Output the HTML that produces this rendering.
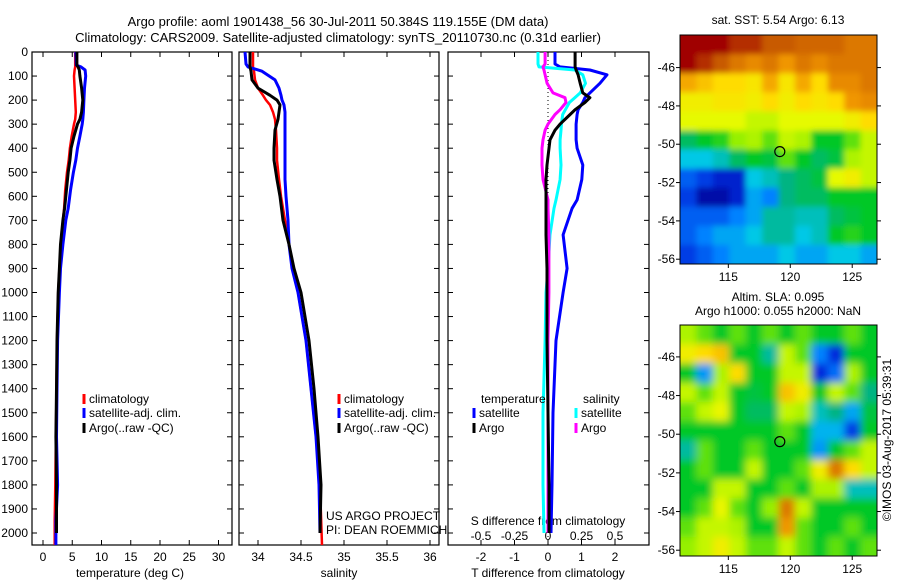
<!DOCTYPE html>
<html><head><meta charset="utf-8"><style>
body{margin:0;background:#fff}
svg{display:block;font-family:"Liberation Sans",sans-serif;font-size:12px}
</style></head><body>
<svg id="fig" width="900" height="580" viewBox="0 0 900 580" xmlns="http://www.w3.org/2000/svg">
<defs>
<clipPath id="clipSst"><rect x="680" y="35" width="197" height="229"/></clipPath>
<clipPath id="clipSla"><rect x="680" y="325" width="197" height="231"/></clipPath>
<filter id="blurS" x="-5%" y="-5%" width="110%" height="110%"><feGaussianBlur stdDeviation="3"/></filter>
<filter id="blurL" x="-5%" y="-5%" width="110%" height="110%"><feGaussianBlur stdDeviation="4"/></filter>
</defs>
<rect width="900" height="580" fill="#fff"/>
<text x="338" y="26" text-anchor="middle" font-size="13">Argo profile: aoml 1901438_56 30-Jul-2011 50.384S 119.155E (DM data)</text>
<text x="338" y="42" text-anchor="middle" font-size="13">Climatology: CARS2009. Satellite-adjusted climatology: synTS_20110730.nc (0.31d earlier)</text>
<text x="778" y="24" text-anchor="middle">sat. SST: 5.54 Argo: 6.13</text>
<text x="778" y="301" text-anchor="middle">Altim. SLA: 0.095</text>
<text x="778" y="315" text-anchor="middle">Argo h1000: 0.055 h2000: NaN</text>
<text transform="translate(891,440) rotate(-90)" text-anchor="middle">©IMOS 03-Aug-2017 05:39:31</text>
<g id="g"></g>
</svg>
<script>
// ---- data ----
const tDepth=[0,55,62,75,100,150,200,250,280,300,350,400,450,500,575,650,700,800,900,1000,1200,1400,1600,1800,1950,2050];
const tClim=[5.5,5.5,5.5,5.4,5.3,5.4,5.5,5.6,5.5,5.3,4.9,4.6,4.4,4.1,3.8,3.6,3.4,3.1,2.8,2.6,2.4,2.3,2.2,2.1,2.0,2.0];
const tArgo=[5.8,5.8,6.0,6.2,6.3,6.6,6.8,6.6,6.3,5.9,5.3,4.8,4.6,4.3,4.0,3.7,3.4,3.0,2.8,2.6,2.4,2.3,2.2,2.3,2.3,2.3];
const tSat=[5.6,5.7,6.5,7.2,7.3,7.1,7.0,6.9,6.8,6.7,6.3,5.9,5.6,5.2,4.7,4.3,3.9,3.4,3.0,2.8,2.5,2.4,2.3,2.5,2.2,2.2];
const sDepth=[0,50,62,80,116,150,180,200,220,250,280,325,400,450,530,600,700,800,900,1000,1200,1400,1600,1800,2000];
const sClim=[33.942,33.942,33.942,33.953,33.965,34.0,34.058,34.093,34.140,34.174,34.198,34.209,34.221,34.221,34.244,34.267,34.314,34.360,34.407,34.465,34.558,34.616,34.674,34.721,34.744];
const sArgo=[33.907,33.907,33.907,33.919,33.930,34.0,34.140,34.221,34.256,34.244,34.233,34.198,34.186,34.186,34.221,34.256,34.291,34.360,34.419,34.500,34.593,34.651,34.698,34.733,34.721];
const sSat=[33.849,33.860,33.884,34.047,34.198,34.244,34.267,34.279,34.302,34.314,34.314,34.314,34.314,34.314,34.314,34.326,34.349,34.360,34.395,34.465,34.558,34.616,34.674,34.709,34.721];
const dDepth=[0,50,62,75,95,130,170,190,210,240,260,300,325,365,400,470,530,615,650,760,900,1000,1200,1500,1800,2000];
const dTsat=[.21,.21,.36,1.25,1.76,1.55,1.25,1.10,1.04,.90,.87,.84,.84,.84,.87,1.04,1.01,.87,.72,.45,.57,.45,.24,.15,.12,.09];
const dTargo=[.81,.81,.81,.84,.90,.96,1.04,1.25,1.10,.81,.66,.36,.21,.06,.03,-.03,-.06,-.06,-.06,-.06,-.03,-.03,-.03,0,.03,.03];
const dSsat=[-.075,-.075,-.067,.20,.26,.28,.24,.20,.16,.13,.11,.10,.097,.09,.09,.097,.09,.06,.045,.015,0,-.015,-.022,-.037,-.037,-.03];
const dSargo=[-.022,-.022,-.037,-.03,-.022,-.007,.037,.127,.134,.09,.052,0,-.022,-.037,-.045,-.045,-.037,0,0,.007,.007,.007,0,0,0,0];
const tTicks=[0,5,10,15,20,25,30];
const sTicks=[34,34.5,35,35.5,36];
const dTicks=[-2,-1,0,1,2];
const sdTicks=[-0.5,-0.25,0,0.25,0.5];
const sdTickLabels=["-0.5","-0.25","0","0.25","0.5"];
const depthTicks=[0,100,200,300,400,500,600,700,800,900,1000,1100,1200,1300,1400,1500,1600,1700,1800,1900,2000];
const sstGrid=[
[1,1,1,.95,.95,.9,.9,.88,.88,.88,.85,.85],
[1,.95,.9,.85,.82,.85,.8,.85,.82,.85,.85,.85],
[.78,.75,.72,.72,.7,.78,.7,.78,.72,.82,.82,.85],
[.68,.68,.7,.7,.68,.72,.68,.72,.7,.72,.8,.82],
[.65,.65,.65,.65,.62,.62,.65,.65,.65,.65,.68,.72],
[.45,.5,.52,.58,.6,.55,.62,.6,.5,.5,.55,.62],
[.35,.35,.38,.45,.5,.48,.55,.5,.45,.48,.6,.62],
[.2,.15,.1,.1,.35,.38,.42,.45,.48,.65,.68,.62],
[.15,.05,.05,.1,.3,.25,.42,.45,.45,.5,.5,.5],
[.2,.2,.2,.25,.3,.4,.4,.38,.38,.45,.48,.5],
[.2,.25,.3,.3,.35,.4,.4,.35,.38,.5,.52,.5],
[.15,.2,.25,.3,.3,.3,.35,.3,.3,.35,.35,.3]];
const slaGrid=[
[.6,.55,.5,.55,.5,.55,.5,.55,.5,.5,.55,.5],
[.68,.72,.75,.5,.5,.4,.62,.55,.25,.12,.5,.5],
[.5,.28,.6,.72,.5,.5,.62,.62,.12,.22,.6,.5],
[.62,.55,.62,.5,.48,.5,.75,.68,.5,.62,.55,.42],
[.55,.62,.66,.5,.45,.45,.62,.6,.38,.42,.3,.48],
[.5,.5,.5,.5,.5,.5,.55,.5,.32,.32,.15,.5],
[.4,.55,.5,.5,.55,.5,.5,.5,.28,.5,.55,.62],
[.5,.55,.5,.5,.62,.5,.5,.55,.68,.85,.72,.62],
[.5,.5,.62,.62,.5,.5,.55,.5,.6,.6,.38,.38],
[.5,.55,.66,.55,.5,.58,.85,.62,.5,.5,.5,.5],
[.55,.62,.62,.6,.5,.5,.8,.55,.5,.5,.55,.5],
[.58,.62,.68,.62,.55,.55,.62,.55,.5,.55,.5,.55]];
const lonTicks=[115,120,125];
const latTicks=[-46,-48,-50,-52,-54,-56];
const argoLon=119.155, argoLat=-50.384;

// ---- helpers ----
const NS="http://www.w3.org/2000/svg";
const G=document.getElementById('g');
function mk(tag,attrs,parent){const e=document.createElementNS(NS,tag);for(const k in attrs)e.setAttribute(k,attrs[k]);(parent||G).appendChild(e);return e;}
const PT=52,PB=545;
const yD=d=>PT+d*0.2405;
const xT=t=>43+t*5.85;
const xS=s=>258+(s-34)*86;
const xDT=t=>548+t*33.5;
const xDS=s=>548+s*134;

function panel(name,x0,x1,labels){
  const r=mk('rect',{x:x0,y:PT,width:x1-x0,height:PB-PT,fill:'none',stroke:'#000','stroke-width':1.2});
  
  depthTicks.forEach(d=>{
    const y=yD(d);
    mk('line',{x1:x0,x2:x0+5,y1:y,y2:y,stroke:'#000'});
    mk('line',{x1:x1,x2:x1-5,y1:y,y2:y,stroke:'#000'});
    if(labels){const t=mk('text',{x:x0-4,y:y+4,'text-anchor':'end'});t.textContent=d;
      }
  });
}
function xticks(ticks,fx,labs,y0,labY,nameP){
  ticks.forEach((v,i)=>{const x=fx(v);
    mk('line',{x1:x,x2:x,y1:PB,y2:PB-5,stroke:'#000'});
    mk('line',{x1:x,x2:x,y1:PT,y2:PT+5,stroke:'#000'});
    const t=mk('text',{x:x,y:labY,'text-anchor':'middle'});t.textContent=labs?labs[i]:v;
    });
}
function series(name,vals,depths,fx,color,w){
  const pts=vals.map((v,i)=>fx(v).toFixed(1)+','+yD(depths[i]).toFixed(1)).join(' ');
  const p=mk('polyline',{points:pts,fill:'none',stroke:color,'stroke-width':w,'stroke-linejoin':'round'});
  
}
function txt(s,x,y,anchor,name){const t=mk('text',{x:x,y:y,'text-anchor':anchor||'start'});t.textContent=s;
  return t;}
function legend(x,y,color,label,name){
  const l=mk('line',{x1:x,x2:x,y1:y-9,y2:y+1,stroke:color,'stroke-width':3});
  
  txt(label,x+5,y,'start',name);
}

// Panel 1: temperature
panel('temperature-panel',32,232,true);
xticks(tTicks,xT,null,PB,561,'temperature');
txt('temperature (deg C)',130,577,'middle','temperature-axis-title');
series('temp-climatology',tClim,tDepth,xT,'#f00',2.5);
series('temp-satellite',tSat,tDepth,xT,'#00f',3);
series('temp-argo',tArgo,tDepth.map(d=>Math.min(d,2000)),xT,'#000',3);
legend(84,403,'#f00','climatology','legend-climatology-1');
legend(84,417,'#00f','satellite-adj. clim.','legend-satellite-1');
legend(84,432,'#000','Argo(..raw -QC)','legend-argo-1');

// Panel 2: salinity
panel('salinity-panel',239,439,false);
xticks(sTicks,xS,null,PB,561,'salinity');
txt('salinity',339,577,'middle','salinity-axis-title');
series('sal-climatology',sClim,sDepth.map((d,i)=>i==sDepth.length-1?2050:d),xS,'#f00',2.5);
series('sal-satellite',sSat,sDepth,xS,'#00f',3);
series('sal-argo',sArgo,sDepth,xS,'#000',3);
legend(339,403,'#f00','climatology','legend-climatology-2');
legend(339,417,'#00f','satellite-adj. clim.','legend-satellite-2');
legend(339,432,'#000','Argo(..raw -QC)','legend-argo-2');
txt('US ARGO PROJECT',326,520,'start','project-label');
txt('PI: DEAN ROEMMICH',326,534,'start','pi-label');

// Panel 3: differences
panel('difference-panel',448,649,false);
xticks(dTicks,xDT,null,PB,561,'t-diff');
mk('line',{x1:548,x2:548,y1:PT,y2:PB,stroke:'#000','stroke-dasharray':'1,3'});
sdTicks.forEach((v,i)=>{txt(sdTickLabels[i],xDS(v),540,'middle','s-diff-tick-label');});
txt('S difference from climatology',548,525,'middle','s-diff-axis-title');
txt('T difference from climatology',548,577,'middle','t-diff-axis-title');
series('tdiff-satellite',dTsat,dDepth,xDT,'#00f',3);
series('sdiff-satellite',dSsat,dDepth,xDS,'#0ff',3);
series('sdiff-argo',dSargo,dDepth,xDS,'#f0f',3);
series('tdiff-argo',dTargo,dDepth,xDT,'#000',3);
txt('temperature',481,403,'start','legend-temperature-header');
txt('salinity',583,403,'start','legend-salinity-header');
legend(474,417,'#00f','satellite','legend-t-satellite');
legend(474,432,'#000','Argo','legend-t-argo');
legend(576,417,'#0ff','satellite','legend-s-satellite');
legend(576,432,'#f0f','Argo','legend-s-argo');

// Maps
const cmapStops=[0,.12,.25,.35,.42,.5,.58,.65,.72,.8,.9,1];
const cmapCols=[[0,0,130],[0,40,220],[0,130,255],[0,200,230],[0,180,130],[0,200,40],[150,240,0],[230,250,0],[255,220,0],[240,150,0],[200,90,0],[160,0,0]];
function cmap(v){
  v=Math.max(0,Math.min(1,v));
  for(let i=1;i<cmapStops.length;i++){
    if(v<=cmapStops[i]){const f=(v-cmapStops[i-1])/(cmapStops[i]-cmapStops[i-1]);
      const a=cmapCols[i-1],b=cmapCols[i];
      return `rgb(${Math.round(a[0]+(b[0]-a[0])*f)},${Math.round(a[1]+(b[1]-a[1])*f)},${Math.round(a[2]+(b[2]-a[2])*f)})`;}
  }
  return 'rgb(160,0,0)';
}
function map(name,grid,top,bot,latTop,latBot,clip,blur){
  const x0=680,x1=877,lon0=111.1,lon1=127;
  const fx=l=>x0+(l-lon0)/(lon1-lon0)*(x1-x0);
  const fy=la=>top+(la-latTop)/(latBot-latTop)*(bot-top);
  const rows=grid.length,cols=grid[0].length,cw=(x1-x0)/cols,ch=(bot-top)/rows;
  const outer=mk('g',{'clip-path':'url(#'+clip+')'});
  const inner=mk('g',{filter:'url(#'+blur+')'},outer);
  grid.forEach((row,i)=>row.forEach((v,j)=>{
    let x=x0+j*cw,y=top+i*ch,w=cw+0.6,h=ch+0.6;
    if(j==0){x-=12;w+=12;} if(j==cols-1){w+=12;}
    if(i==0){y-=12;h+=12;} if(i==rows-1){h+=12;}
    const c=mk('rect',{x:x.toFixed(2),y:y.toFixed(2),width:w.toFixed(2),height:h.toFixed(2),fill:cmap(v)},inner);
    
  }));
  const f=mk('rect',{x:x0,y:top,width:x1-x0,height:bot-top,fill:'none',stroke:'#000'});
  
  lonTicks.forEach(l=>{const x=fx(l);mk('line',{x1:x,x2:x,y1:bot,y2:bot+4,stroke:'#000'});
    txt(l,x,bot+17,'middle',name+'-lon-label');});
  latTicks.forEach(la=>{const y=fy(la);mk('line',{x1:x0-4,x2:x0,y1:y,y2:y,stroke:'#000'});
    mk('line',{x1:x1,x2:x1+4,y1:y,y2:y,stroke:'#000'});
    txt(la,x0-5,y+4,'end',name+'-lat-label');});
  const c=mk('circle',{cx:fx(argoLon),cy:fy(argoLat),r:5,fill:'none',stroke:'#000','stroke-width':1.2});
  
}
map('sst-map',sstGrid,35,264,-44.3,-56.25,'clipSst','blurS');
map('sla-map',slaGrid,325,556,-44.35,-56.3,'clipSla','blurL');
</script>
</body></html>
